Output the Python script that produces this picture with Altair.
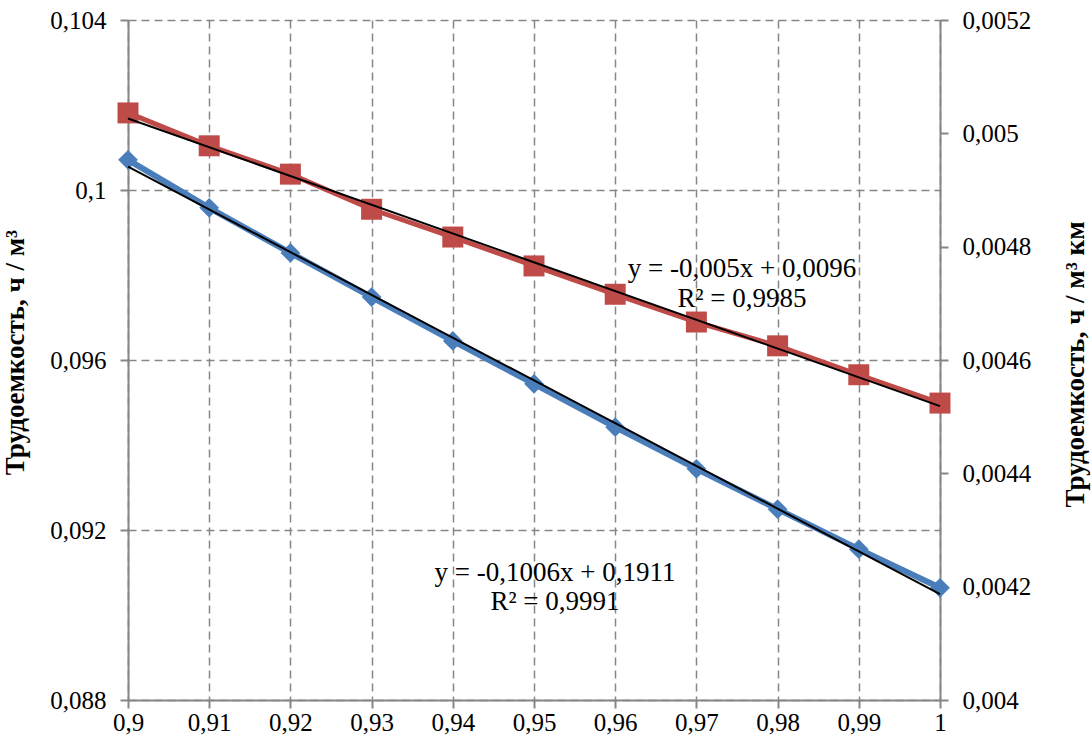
import altair as alt
import pandas as pd

x_vals = [0.90, 0.91, 0.92, 0.93, 0.94, 0.95, 0.96, 0.97, 0.98, 0.99, 1.00]
blue_vals = [0.10071, 0.09958, 0.09852, 0.09748, 0.09645, 0.09544, 0.09442, 0.09344, 0.09249, 0.09155, 0.09064]
red_vals = [0.005036, 0.004978, 0.004928, 0.004866, 0.004817, 0.004766, 0.004716, 0.004667, 0.004625, 0.004574, 0.004524]

left_ticks = [0.088, 0.092, 0.096, 0.1, 0.104]
right_ticks = [0.004, 0.0042, 0.0044, 0.0046, 0.0048, 0.005, 0.0052]

red_eq = ["y = -0,005x + 0,0096", "R² = 0,9985"]
blue_eq = ["y = -0,1006x + 0,1911", "R² = 0,9991"]

df = pd.DataFrame({"x": x_vals, "blue": blue_vals, "red": red_vals})

FONT = "Liberation Serif"
GRAY = "#868686"
BLUE = "#4a7ebb"
RED = "#be4b48"
LBL = "replace(format(datum.value, '~g'), '.', ',')"
LFS = 25
TFS = 27

base = alt.Chart(df)

x_enc = alt.X(
    "x:Q",
    scale=alt.Scale(domain=[0.9, 1.0], nice=False, zero=False),
    axis=alt.Axis(
        values=x_vals, labelExpr=LBL, title=None, grid=True,
        gridColor=GRAY, gridDash=[8, 5], gridWidth=1.5,
        domainColor=GRAY, domainWidth=2, tickColor=GRAY, tickWidth=2, tickSize=8,
        labelFont=FONT, labelFontSize=LFS, labelColor="black", labelPadding=2,
        labelFlush=False,
    ),
)

y_left = alt.Y(
    "blue:Q",
    scale=alt.Scale(domain=[0.088, 0.104], nice=False, zero=False),
    axis=alt.Axis(
        values=left_ticks, labelExpr=LBL, title="Трудоемкость, ч / м³",
        grid=True, gridColor=GRAY, gridDash=[8, 5], gridWidth=1.5,
        domainColor=GRAY, domainWidth=2, tickColor=GRAY, tickWidth=2, tickSize=8,
        labelFont=FONT, labelFontSize=LFS, labelColor="black", labelPadding=14,
        labelFlush=False,
        titleFont=FONT, titleFontSize=TFS, titleFontWeight="bold", titleColor="black",
        titleAngle=270, titleX=-113, titleY=332, titleAlign="center", titleBaseline="middle",
    ),
)

y_right = alt.Y(
    "red:Q",
    scale=alt.Scale(domain=[0.004, 0.0052], nice=False, zero=False),
    axis=alt.Axis(
        orient="right", values=right_ticks, labelExpr=LBL, title="Трудоемкость, ч / м³ км",
        grid=False,
        domainColor=GRAY, domainWidth=2, tickColor=GRAY, tickWidth=2, tickSize=8,
        labelFont=FONT, labelFontSize=LFS, labelColor="black", labelPadding=14,
        labelFlush=False,
        titleFont=FONT, titleFontSize=TFS, titleFontWeight="bold", titleColor="black",
        titleAngle=270, titleX=135, titleY=344, titleAlign="center", titleBaseline="middle",
    ),
)

blue_line = base.mark_line(color=BLUE, strokeWidth=6).encode(x=x_enc, y=y_left)
blue_pts = base.mark_point(shape="diamond", filled=True, color=BLUE, size=390, opacity=1).encode(x=x_enc, y=y_left)
blue_reg = base.transform_regression("x", "blue", extent=[0.9, 1.0]).mark_line(
    color="black", strokeWidth=2).encode(x=x_enc, y=y_left)

red_line = base.mark_line(color=RED, strokeWidth=5).encode(x=x_enc, y=y_right)
red_pts = base.mark_point(shape="square", filled=True, color=RED, size=440, opacity=1).encode(x=x_enc, y=y_right)
red_reg = base.transform_regression("x", "red", extent=[0.9, 1.0]).mark_line(
    color="black", strokeWidth=2).encode(x=x_enc, y=y_right)

left = alt.layer(blue_line, blue_pts, blue_reg)
right = alt.layer(red_line, red_pts, red_reg)


def label(text, px, py):
    return alt.Chart(pd.DataFrame({"t": [text]})).mark_text(
        font=FONT, fontSize=27, color="black", align="center", baseline="middle"
    ).encode(text="t:N", x=alt.value(px), y=alt.value(py))


chart = alt.layer(
    left, right,
    label(red_eq[0], 614, 249), label(red_eq[1], 614, 279),
    label(blue_eq[0], 427, 553), label(blue_eq[1], 427, 582),
).resolve_scale(
    y="independent"
).properties(
    width=812, height=680,
    autosize="none",
    padding={"left": 128, "top": 20, "right": 152, "bottom": 47},
    background="white",
).configure_view(stroke=None)

chart.save("out.html", embed_options={"renderer": "svg", "actions": False})
